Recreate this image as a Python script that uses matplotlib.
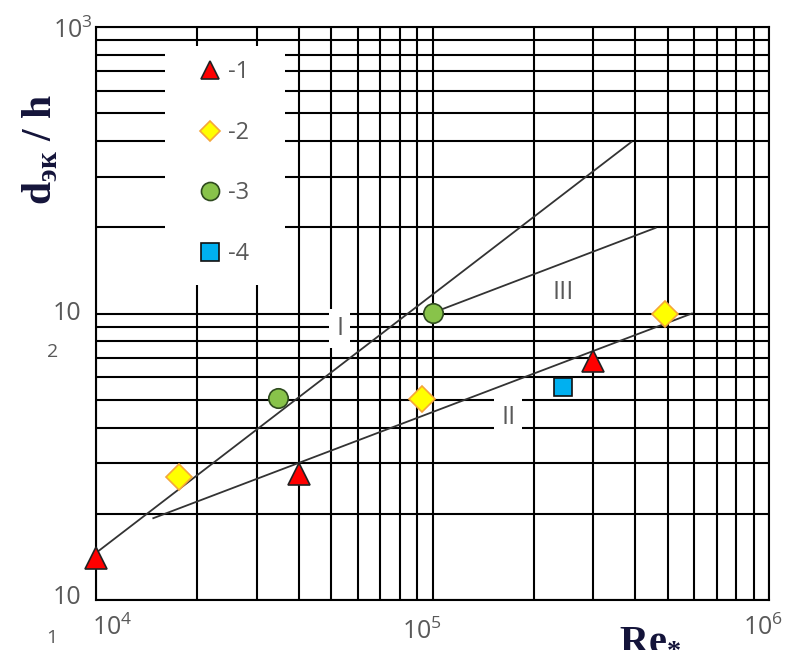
import matplotlib
matplotlib.use("Agg")
import matplotlib.pyplot as plt
from matplotlib.ticker import LogLocator, NullFormatter
from matplotlib.lines import Line2D
from matplotlib.patches import Rectangle

plt.rcParams['font.family'] = ['Open Sans', 'DejaVu Sans']
plt.rcParams['mathtext.fontset'] = 'custom'
plt.rcParams['mathtext.rm'] = 'Open Sans'
plt.rcParams['mathtext.it'] = 'Open Sans'

# measured points, Re* vs d_эк/h
re_1 = [1.0e4, 4.0e4, 3.0e5]
d_1 = [14.0, 27.5, 68.0]
re_2 = [1.77e4, 9.3e4, 4.9e5]
d_2 = [26.8, 50.2, 100.0]
re_3 = [3.47e4, 1.0e5]
d_3 = [50.7, 100.5]
re_4 = [2.45e5]
d_4 = [55.4]

# trend lines I, II, III (end points)
line_I_x = [1.0e4, 3.9e5]
line_I_y = [14.6, 397.0]
line_II_x = [1.48e4, 5.9e5]
line_II_y = [19.3, 100.0]
line_III_x = [1.0e5, 4.6e5]
line_III_y = [100.5, 199.0]

line_names = ["I", "II", "III"]
line_name_x = [5.3e4, 1.68e5, 2.45e5]
line_name_y = [88.3, 43.2, 118.0]

legend_labels = ["-1", "-2", "-3", "-4"]

GRAY = "#595959"

fig = plt.figure(figsize=(7.9, 6.66), dpi=100)
ax = fig.add_axes([96 / 790, 66 / 666, 673 / 790, 573 / 666])
ax.set_xscale("log")
ax.set_yscale("log")
ax.set_xlim(1e4, 1e6)
ax.set_ylim(10, 1000)

for axis in (ax.xaxis, ax.yaxis):
    axis.set_major_locator(LogLocator(base=10, numticks=10))
    axis.set_minor_locator(LogLocator(base=10, subs=range(2, 10), numticks=10))
    axis.set_major_formatter(NullFormatter())
    axis.set_minor_formatter(NullFormatter())
ax.tick_params(which="both", length=0)
ax.set_axisbelow(True)
ax.grid(True, which="both", color="black", lw=1.5)
for s in ax.spines.values():
    s.set_color("black")
    s.set_linewidth(1.5)

# white box behind the legend
ax.add_patch(Rectangle((0.1025, 0.55), 0.178, 0.417, transform=ax.transAxes,
                       facecolor="white", edgecolor="none", zorder=1))

lc = "#333333"
ax.plot(line_I_x, line_I_y, color=lc, lw=1.3, zorder=2)
ax.plot(line_II_x, line_II_y, color=lc, lw=1.3, zorder=2)
ax.plot(line_III_x, line_III_y, color=lc, lw=1.3, zorder=2)

for name, x, y in zip(line_names, line_name_x, line_name_y):
    ax.text(x, y, name, color=GRAY, fontsize=18, ha="center", va="center", zorder=4,
            bbox=dict(facecolor="white", edgecolor="none", pad=5))

styles = [
    dict(marker="^", ms=16.5, mfc="#FF0000", mec="#222222"),
    dict(marker="D", ms=13.5, mfc="#FFFF00", mec="#F5A63A"),
    dict(marker="o", ms=14, mfc="#88C34A", mec="#2E4A1E"),
    dict(marker="s", ms=13.5, mfc="#00B0F0", mec="#111111"),
]
series = [(re_1, d_1), (re_2, d_2), (re_3, d_3), (re_4, d_4)]
for (xs, ys), st in zip(series, styles):
    ax.plot(xs, ys, ls="none", mew=1.2, zorder=5, clip_on=False, **st)

legend_sizes = [13, 10, 13, 13]
handles = [Line2D([], [], ls="none", mew=1.2, **{**st, "ms": ms})
           for st, ms in zip(styles, legend_sizes)]
leg = ax.legend(handles, legend_labels, loc="upper left",
                bbox_to_anchor=(0.152, 0.942), frameon=False, fontsize=17,
                handlelength=1.0, handletextpad=0.25, labelspacing=1.55,
                borderpad=0, borderaxespad=0)
for t in leg.get_texts():
    t.set_color(GRAY)

# tick labels
tick_kw = dict(color=GRAY, fontsize=18, transform=fig.transFigure)
fig.text(112 / 790, 1 - 628 / 666, r"10$^{4}$", ha="center", va="center", **tick_kw)
fig.text(422 / 790, 1 - 632 / 666, r"10$^{5}$", ha="center", va="center", **tick_kw)
fig.text(763 / 790, 1 - 628 / 666, r"10$^{6}$", ha="center", va="center", **tick_kw)
fig.text(93 / 790, 1 - 31 / 666, r"10$^{3}$", ha="right", va="center", **tick_kw)
fig.text(81 / 790, 1 - 313 / 666, "10", ha="right", va="center", **tick_kw)
fig.text(53 / 790, 1 - 352 / 666, "2", ha="center", va="center", color=GRAY, fontsize=14)
fig.text(81 / 790, 1 - 598 / 666, "10", ha="right", va="center", **tick_kw)
fig.text(52 / 790, 1 - 638 / 666, "1", ha="center", va="center", color=GRAY, fontsize=14)

# axis titles
title_kw = dict(family=["Liberation Serif", "DejaVu Serif"], fontweight="bold",
                color="#14143a")
fig.text(40 / 790, 1 - 150 / 666, "d$_{\\mathregular{эк}}$ / h", rotation=90,
         ha="center", va="center", fontsize=30, **title_kw)
fig.text(650 / 790, 1 - 647 / 666, "Re$_{\\mathregular{*}}$", ha="center",
         va="baseline", fontsize=29, **title_kw)

fig.savefig("out.png", dpi=100)
